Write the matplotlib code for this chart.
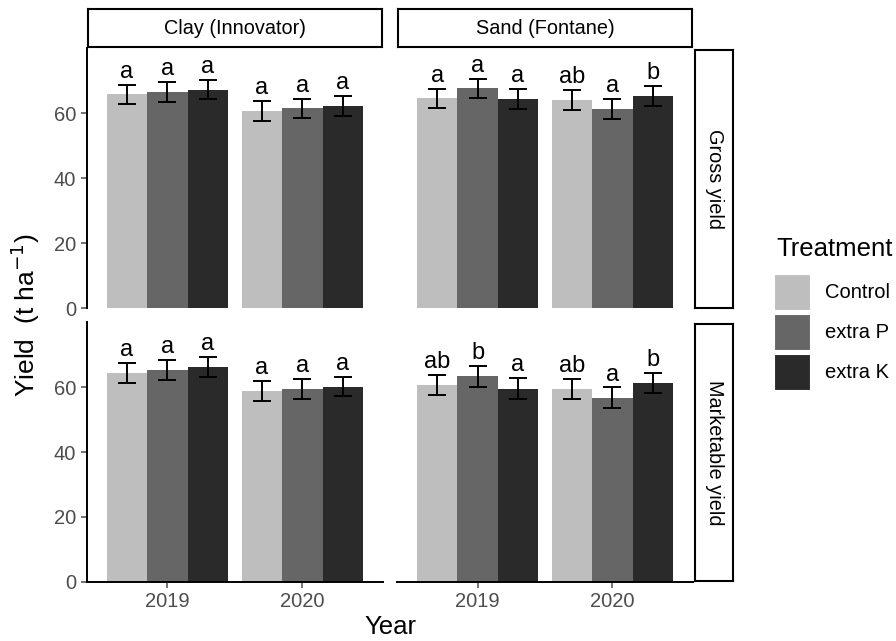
import matplotlib
matplotlib.use('Agg')
import matplotlib.pyplot as plt
from matplotlib.patches import Patch
import numpy as np

plt.rcParams['font.family'] = ['Liberation Sans', 'DejaVu Sans']

# yield data (t/ha): mean and standard error per soil, yield type, treatment, year
years = ['2019', '2020']
treatments = ['Control', 'extra P', 'extra K']
soils = ['Clay (Innovator)', 'Sand (Fontane)']
yield_types = ['Gross yield', 'Marketable yield']
fills = ['#BEBEBE', '#666666', '#2A2A2A']

# rows: treatment, columns: year
clay_gross = [[65.8, 60.6], [66.6, 61.5], [67.3, 62.2]]
clay_gross_se = [[3.0, 3.1], [3.0, 3.0], [3.0, 3.0]]
clay_gross_letters = [['a', 'a'], ['a', 'a'], ['a', 'a']]

sand_gross = [[64.6, 64.1], [67.7, 61.4], [64.4, 65.4]]
sand_gross_se = [[3.0, 3.0], [3.0, 3.0], [3.0, 3.0]]
sand_gross_letters = [['a', 'ab'], ['a', 'a'], ['a', 'b']]

clay_market = [[64.3, 58.8], [65.4, 59.5], [66.1, 60.2]]
clay_market_se = [[3.1, 3.1], [3.1, 3.1], [3.1, 3.0]]
clay_market_letters = [['a', 'a'], ['a', 'a'], ['a', 'a']]

sand_market = [[60.7, 59.4], [63.3, 56.7], [59.5, 61.4]]
sand_market_se = [[3.1, 3.2], [3.1, 3.2], [3.2, 3.1]]
sand_market_letters = [['ab', 'ab'], ['b', 'a'], ['a', 'b']]

panels = {
    (0, 0): (clay_gross, clay_gross_se, clay_gross_letters),
    (0, 1): (sand_gross, sand_gross_se, sand_gross_letters),
    (1, 0): (clay_market, clay_market_se, clay_market_letters),
    (1, 1): (sand_market, sand_market_se, sand_market_letters),
}

W, H = 896, 641
fig = plt.figure(figsize=(W / 100, H / 100), dpi=100)


def px_axes(x0, y0, x1, y1):
    # axes from pixel box (top-left origin)
    return fig.add_axes([x0 / W, 1 - y1 / H, (x1 - x0) / W, (y1 - y0) / H])


col_x = [(86.5, 383.3), (396.7, 693.3)]
row_y = [(48.3, 308.3), (322.3, 581.7)]
tick_grey = '#4D4D4D'
bar_w = 0.3
x = np.arange(1, len(years) + 1)

for (r, c), (means, ses, letters) in panels.items():
    ax = px_axes(col_x[c][0], row_y[r][0], col_x[c][1], row_y[r][1])
    for i, t in enumerate(treatments):
        xpos = x + (i - 1) * bar_w
        ax.bar(xpos, means[i], width=bar_w, color=fills[i], zorder=1)
        ax.errorbar(xpos, means[i], yerr=ses[i], fmt='none', ecolor='black',
                    elinewidth=1.4, capsize=6.5, capthick=1.4, zorder=2)
        for xp, m, s, lab in zip(xpos, means[i], ses[i], letters[i]):
            ax.annotate(lab, (xp, m + s), xytext=(0, 5), textcoords='offset points',
                        ha='center', va='baseline', fontsize=17)
    ax.set_xlim(0.4, 2.6)
    ax.set_ylim(0, 80)
    for s in ['top', 'right', 'left', 'bottom']:
        ax.spines[s].set_visible(False)
    ax.set_yticks([0, 20, 40, 60])
    ax.set_xticks(x)
    ax.set_xticklabels(years)
    ax.tick_params(colors=tick_grey, labelsize=14.5, length=4.5, width=1.1, pad=3)
    if c == 0:
        ax.spines['left'].set_visible(True)
        ax.spines['left'].set_linewidth(1.4)
    else:
        ax.tick_params(axis='y', left=False, labelleft=False)
    if r == 1:
        ax.spines['bottom'].set_visible(True)
        ax.spines['bottom'].set_linewidth(1.4)
    else:
        ax.tick_params(axis='x', bottom=False, labelbottom=False)

# facet strips
for c, soil in enumerate(soils):
    sax = px_axes(col_x[c][0] + 1, 9.3, col_x[c][1] - 1, 47.3)
    sax.set_xticks([])
    sax.set_yticks([])
    for s in sax.spines.values():
        s.set_linewidth(1.5)
    sax.text(0.5, 0.5, soil, ha='center', va='center', fontsize=14.3,
             transform=sax.transAxes)

for r, yt in enumerate(yield_types):
    sax = px_axes(694.8, row_y[r][0] + 1.5, 733.3, row_y[r][1] - 0.5)
    sax.set_xticks([])
    sax.set_yticks([])
    for s in sax.spines.values():
        s.set_linewidth(1.5)
    sax.text(0.5, 0.5, yt, ha='center', va='center', fontsize=14.3,
             rotation=-90, transform=sax.transAxes)

fig.text(25 / W, 1 - 315 / H, r'Yield  (t ha$^{-1}$)', rotation=90,
         ha='center', va='center', fontsize=19)
fig.text(390 / W, 1 - 627 / H, 'Year', ha='center', va='center', fontsize=18.5)

# legend: title placed on its own so the key block can sit lower
fig.text(776 / W, 1 - 256.5 / H, 'Treatment', ha='left', va='baseline',
         fontsize=18.5)
handles = [Patch(facecolor=f, edgecolor='white', linewidth=0.8) for f in fills]
leg = fig.legend(handles, treatments, loc='upper left',
                 bbox_to_anchor=(774 / W, 1 - 274 / H), frameon=False,
                 fontsize=14.5, handlelength=1.79, handleheight=2.38,
                 labelspacing=0.2, handletextpad=0.75, borderaxespad=0,
                 borderpad=0)

fig.savefig('out.png', dpi=100)
